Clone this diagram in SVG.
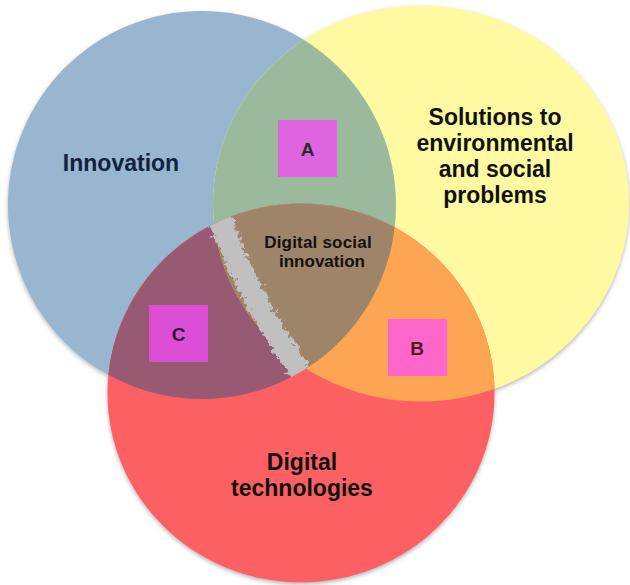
<svg xmlns="http://www.w3.org/2000/svg" width="630" height="585" viewBox="0 0 630 585">
  <style>
    .lbl { font-family: "Liberation Sans", Arial, sans-serif; font-weight: bold; text-anchor: middle; }
    .big { font-size: 23px; fill: #111111; }
    .mid { font-size: 17px; fill: #111111; }
    .box { font-size: 19px; }
  </style>
  <defs>
    <clipPath id="cBlue"><circle cx="202" cy="205" r="194"/></clipPath>
    <clipPath id="cYel"><ellipse cx="421" cy="203.5" rx="208" ry="198"/></clipPath>
    <clipPath id="cRed"><ellipse cx="301" cy="393" rx="193.5" ry="189.5"/></clipPath>
    <filter id="shadow" x="-10%" y="-10%" width="120%" height="120%">
      <feGaussianBlur in="SourceAlpha" stdDeviation="2"/>
      <feOffset dx="0" dy="1.5" result="b"/>
      <feFlood flood-color="#777777" flood-opacity="0.55"/>
      <feComposite in2="b" operator="in"/>
      <feMerge><feMergeNode/><feMergeNode in="SourceGraphic"/></feMerge>
    </filter>
    <filter id="rough" x="-30%" y="-10%" width="160%" height="120%">
      <feTurbulence type="fractalNoise" baseFrequency="0.22" numOctaves="3" seed="7" result="n"/>
      <feDisplacementMap in="SourceGraphic" in2="n" scale="13" xChannelSelector="R" yChannelSelector="G"/>
    </filter>
  </defs>

  <rect width="630" height="585" fill="#ffffff"/>

  <g id="circles" filter="url(#shadow)">
    <g id="innovation-circle"><circle cx="202" cy="205" r="194" fill="#98b6cf"/></g>
    <g id="solutions-circle"><ellipse cx="421" cy="203.5" rx="208" ry="198" fill="#fffaa1"/></g>
    <g id="digital-circle"><ellipse cx="301" cy="393" rx="193.5" ry="189.5" fill="#fd6163"/></g>
  </g>

  <g id="overlaps">
    <ellipse cx="421" cy="203.5" rx="208" ry="198" fill="#9bb99c" clip-path="url(#cBlue)"/>
    <ellipse cx="301" cy="393" rx="193.5" ry="189.5" fill="#985a73" clip-path="url(#cBlue)"/>
    <ellipse cx="301" cy="393" rx="193.5" ry="189.5" fill="#fea553" clip-path="url(#cYel)"/>
    <g clip-path="url(#cYel)">
      <ellipse cx="301" cy="393" rx="193.5" ry="189.5" fill="#9e8569" clip-path="url(#cBlue)"/>
    </g>
    <g id="smudge" clip-path="url(#cBlue)">
      <g clip-path="url(#cRed)" filter="url(#rough)">
        <path d="M 216 205 Q 244 294 306 380" fill="none" stroke="#c0c0c0" stroke-width="22"/>
        <path d="M 210 215 Q 222 240 236 262" fill="none" stroke="#c0c0c0" stroke-width="12"/>
      </g>
    </g>
  </g>

  <g id="connectors"></g>

  <g id="innovation">
    <text class="lbl big" x="121" y="171" style="fill:#0f2340">Innovation</text>
  </g>
  <g id="solutions">
    <text class="lbl big" x="495" y="125">Solutions to</text>
    <text class="lbl big" x="495" y="151">environmental</text>
    <text class="lbl big" x="495" y="177">and social</text>
    <text class="lbl big" x="495" y="203">problems</text>
  </g>
  <g id="digital-technologies">
    <text class="lbl big" x="302" y="470">Digital</text>
    <text class="lbl big" x="302" y="496">technologies</text>
  </g>
  <g id="digital-social-innovation">
    <text class="lbl mid" x="318" y="247.5" letter-spacing="0.2">Digital social</text>
    <text class="lbl mid" x="322" y="267">innovation</text>
  </g>
  <g id="box-a">
    <rect x="278" y="120" width="59" height="57" fill="#de64e0"/>
    <text class="lbl box" x="307.5" y="156" fill="#2a2a2a">A</text>
  </g>
  <g id="box-b">
    <rect x="388" y="319" width="59" height="57" fill="#fe66cc"/>
    <text class="lbl box" x="417" y="354.5" fill="#4a1a1a">B</text>
  </g>
  <g id="box-c">
    <rect x="149" y="305" width="59" height="57" fill="#dc4ed6"/>
    <text class="lbl box" x="178.5" y="341" fill="#2a1030">C</text>
  </g>
</svg>
